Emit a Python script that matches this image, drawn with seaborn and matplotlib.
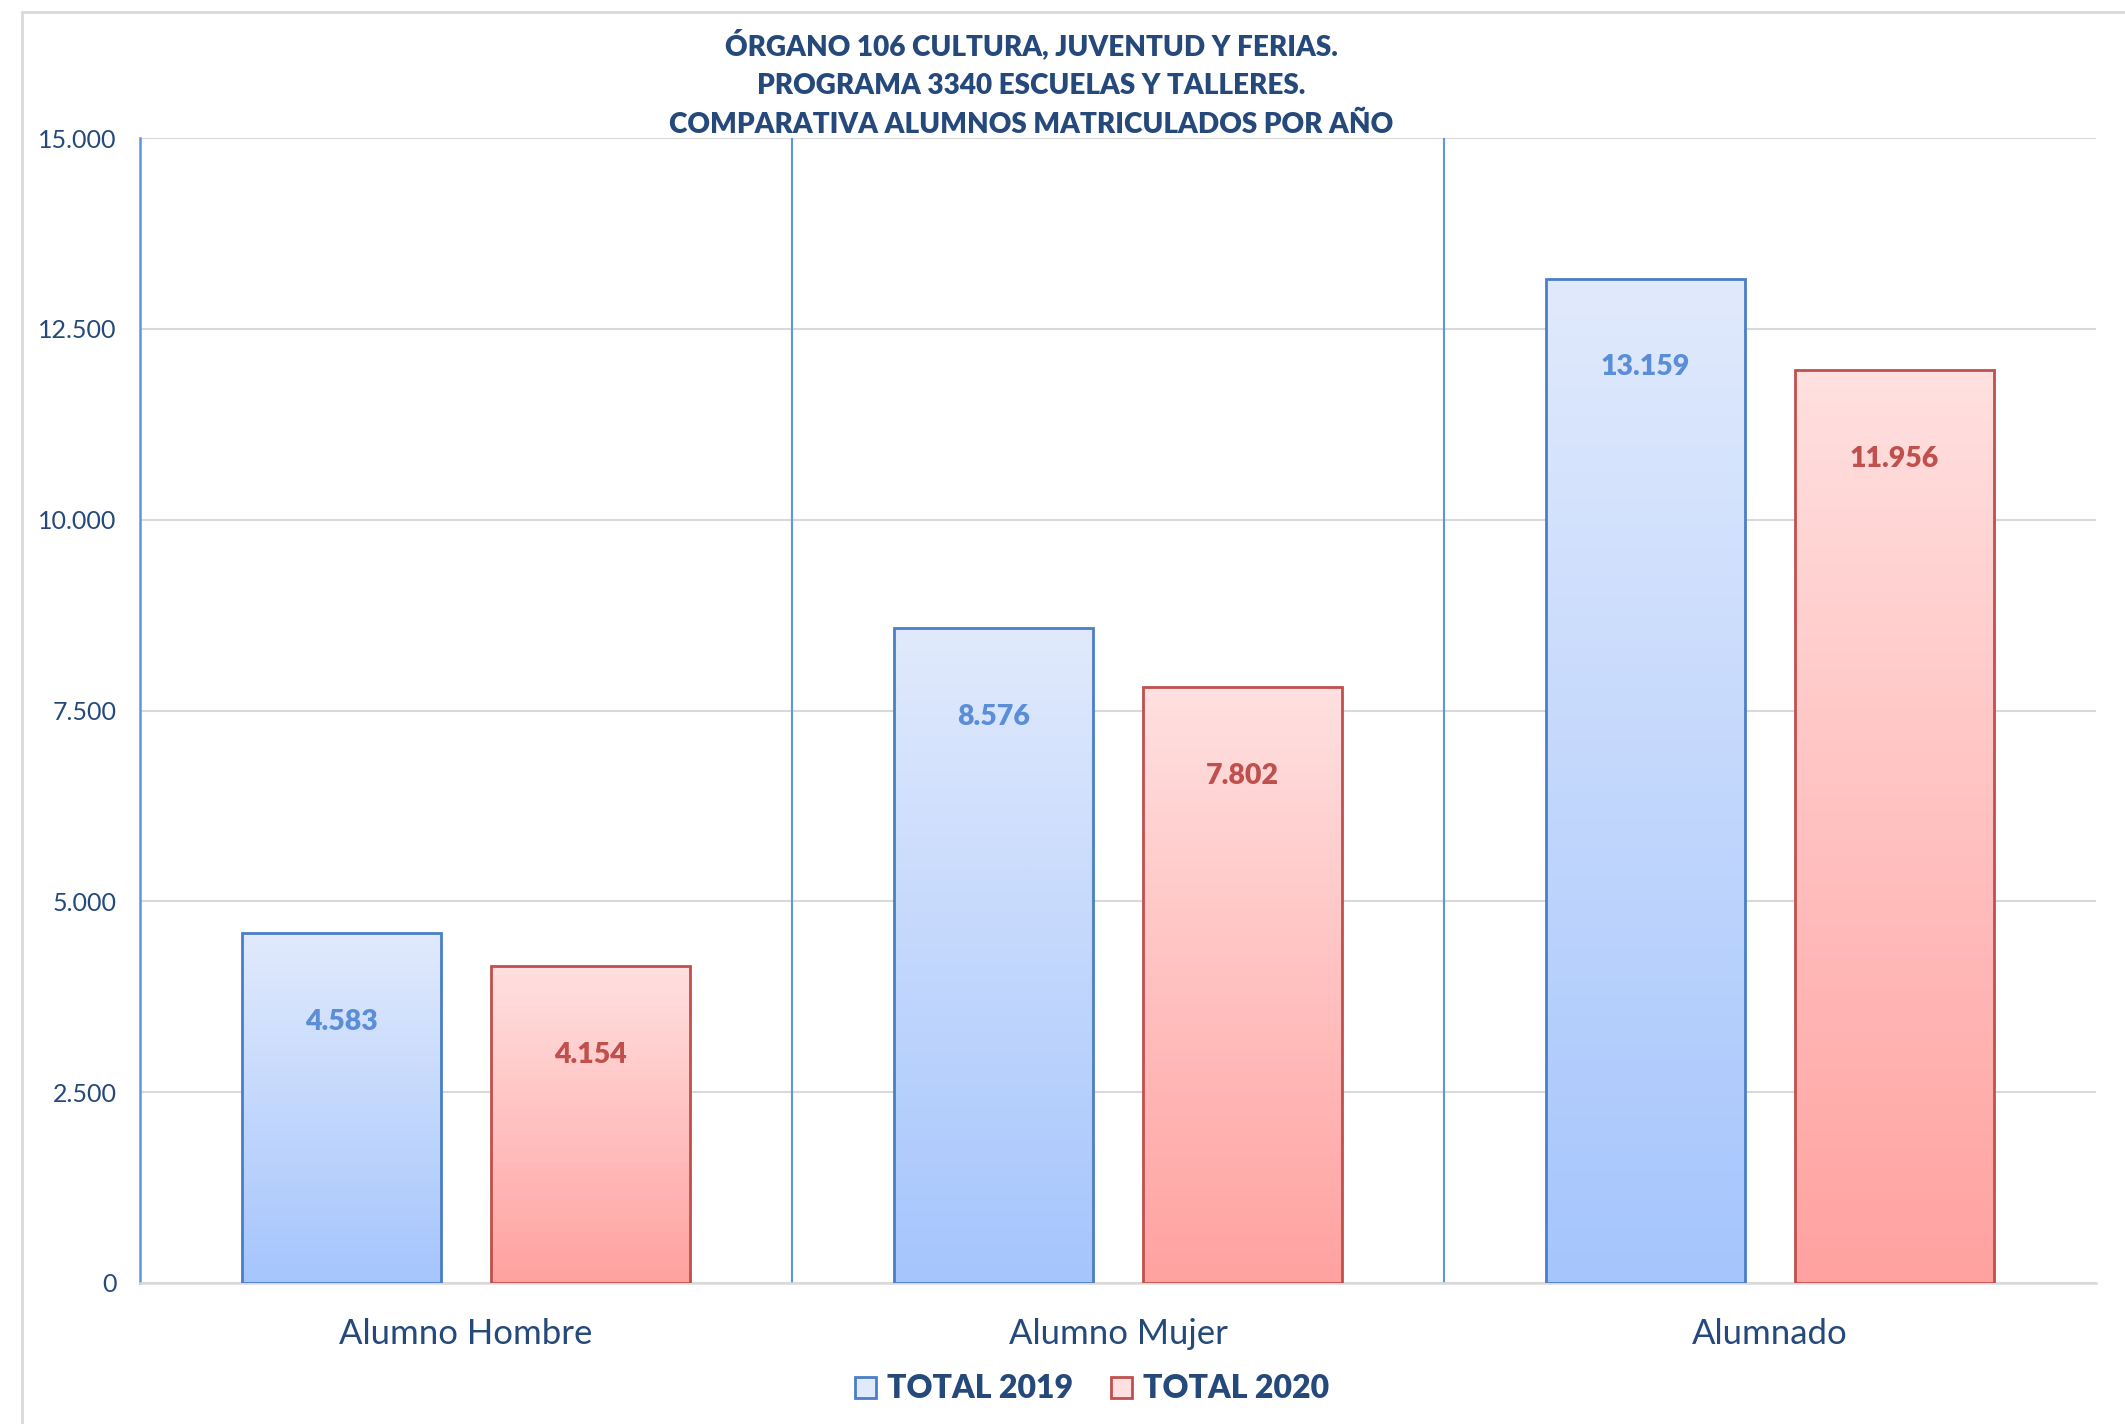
import numpy as np
import pandas as pd
import matplotlib
matplotlib.use("Agg")
import matplotlib.pyplot as plt
import seaborn as sns
from matplotlib.colors import LinearSegmentedColormap
from matplotlib.patches import Patch
from matplotlib.lines import Line2D
from matplotlib.ticker import FuncFormatter

# Data
categorias = ["Alumno Hombre", "Alumno Mujer", "Alumnado"]
series = ["TOTAL 2019", "TOTAL 2020"]
total_2019 = [4583, 8576, 13159]
total_2020 = [4154, 7802, 11956]
titulo = ("ÓRGANO 106 CULTURA, JUVENTUD Y FERIAS.\n"
          "PROGRAMA 3340 ESCUELAS Y TALLERES.\n"
          "COMPARATIVA ALUMNOS MATRICULADOS POR AÑO")

df = pd.DataFrame({
    "categoria": categorias * 2,
    "serie": [series[0]] * 3 + [series[1]] * 3,
    "valor": total_2019 + total_2020,
})

# Style
sns.set_style("white")
plt.rcParams['font.family'] = ['Lato', 'DejaVu Sans']

navy = "#24497A"
edge_colors = {"TOTAL 2019": "#4A7EC7", "TOTAL 2020": "#C0504D"}
label_colors = {"TOTAL 2019": "#5A8ED8", "TOTAL 2020": "#C0504D"}
grad = {"TOTAL 2019": ("#A5C5FC", "#E1EAFD"), "TOTAL 2020": ("#FFA2A0", "#FFE0E0")}

fig = plt.figure(figsize=(21.25, 14.24), dpi=100)
ax = fig.add_axes([140 / 2125, 1 - 1283 / 1424, (2096 - 140) / 2125, (1283 - 138) / 1424])

sns.barplot(data=df, x="categoria", y="valor", hue="serie", order=categorias,
            hue_order=series, palette=[grad[s][1] for s in series],
            width=0.765, gap=0.2, legend=False, ax=ax, zorder=3)

# gradient fill, edge, value labels
for serie, cont in zip(series, ax.containers):
    cmap = LinearSegmentedColormap.from_list(serie, [grad[serie][0], grad[serie][1]])
    for bar in cont:
        x0 = bar.get_x()
        w = bar.get_width()
        h = bar.get_height()
        img = ax.imshow(np.linspace(1, 0, 256).reshape(-1, 1), cmap=cmap, aspect="auto",
                        extent=[x0, x0 + w, 0, h], zorder=2, interpolation="bicubic",
                        vmin=0, vmax=1)
        img.set_clip_path(bar)
        bar.set_facecolor("none")
        bar.set_edgecolor(edge_colors[serie])
        bar.set_linewidth(2)
        txt = f"{int(h):,}".replace(",", ".")
        ax.annotate(txt, xy=(x0 + w / 2, h), xytext=(0, -64), textcoords="offset points",
                    ha="center", va="center", fontsize=20.5, fontweight="heavy",
                    color=label_colors[serie], zorder=5)

ax.set_xlim(-0.5, 2.5)
ax.set_ylim(0, 15000)
ax.set_yticks(np.arange(0, 15001, 2500))
ax.yaxis.set_major_formatter(FuncFormatter(lambda v, p: f"{int(v):,}".replace(",", ".")))
ax.grid(axis="y", color="#D9D9D9", linewidth=1.5, zorder=0)
ax.set_axisbelow(True)

# category separators
for xs in [0.5, 1.5]:
    ax.axvline(xs, color="#5B96E0", linewidth=1.5, zorder=1)

for s in ["top", "right"]:
    ax.spines[s].set_visible(False)
ax.spines["left"].set_color("#5B96E0")
ax.spines["left"].set_linewidth(1.8)
ax.spines["bottom"].set_color("#D9D9D9")
ax.spines["bottom"].set_linewidth(1.8)

ax.tick_params(axis="y", length=0, labelsize=18, labelcolor=navy, pad=17)
ax.tick_params(axis="x", length=0, labelsize=25, labelcolor=navy, pad=25)
ax.set_xlabel("")
ax.set_ylabel("")

fig.text(1031 / 2125, 1 - 84 / 1424, titulo, ha="center", va="center", fontsize=20.1,
         fontweight="heavy", color=navy, linespacing=1.6)

handles = [Patch(facecolor=grad[s][1], edgecolor=edge_colors[s], linewidth=2, label=s) for s in series]
leg = fig.legend(handles=handles, loc="center", bbox_to_anchor=(1092 / 2125, 1 - 1389 / 1424),
                 ncol=2, frameon=False, fontsize=23, handlelength=0.65, handleheight=0.65,
                 handletextpad=0.35, columnspacing=1.2)
for t in leg.get_texts():
    t.set_color(navy)
    t.set_fontweight("heavy")

# chart area frame
fig.add_artist(Line2D([22 / 2125, 22 / 2125], [0, 1 - 12 / 1424], transform=fig.transFigure,
                      color="#D9D9D9", linewidth=2))
fig.add_artist(Line2D([22 / 2125, 1], [1 - 12 / 1424, 1 - 12 / 1424], transform=fig.transFigure,
                      color="#D9D9D9", linewidth=2))

fig.savefig("out.png", dpi=100)
